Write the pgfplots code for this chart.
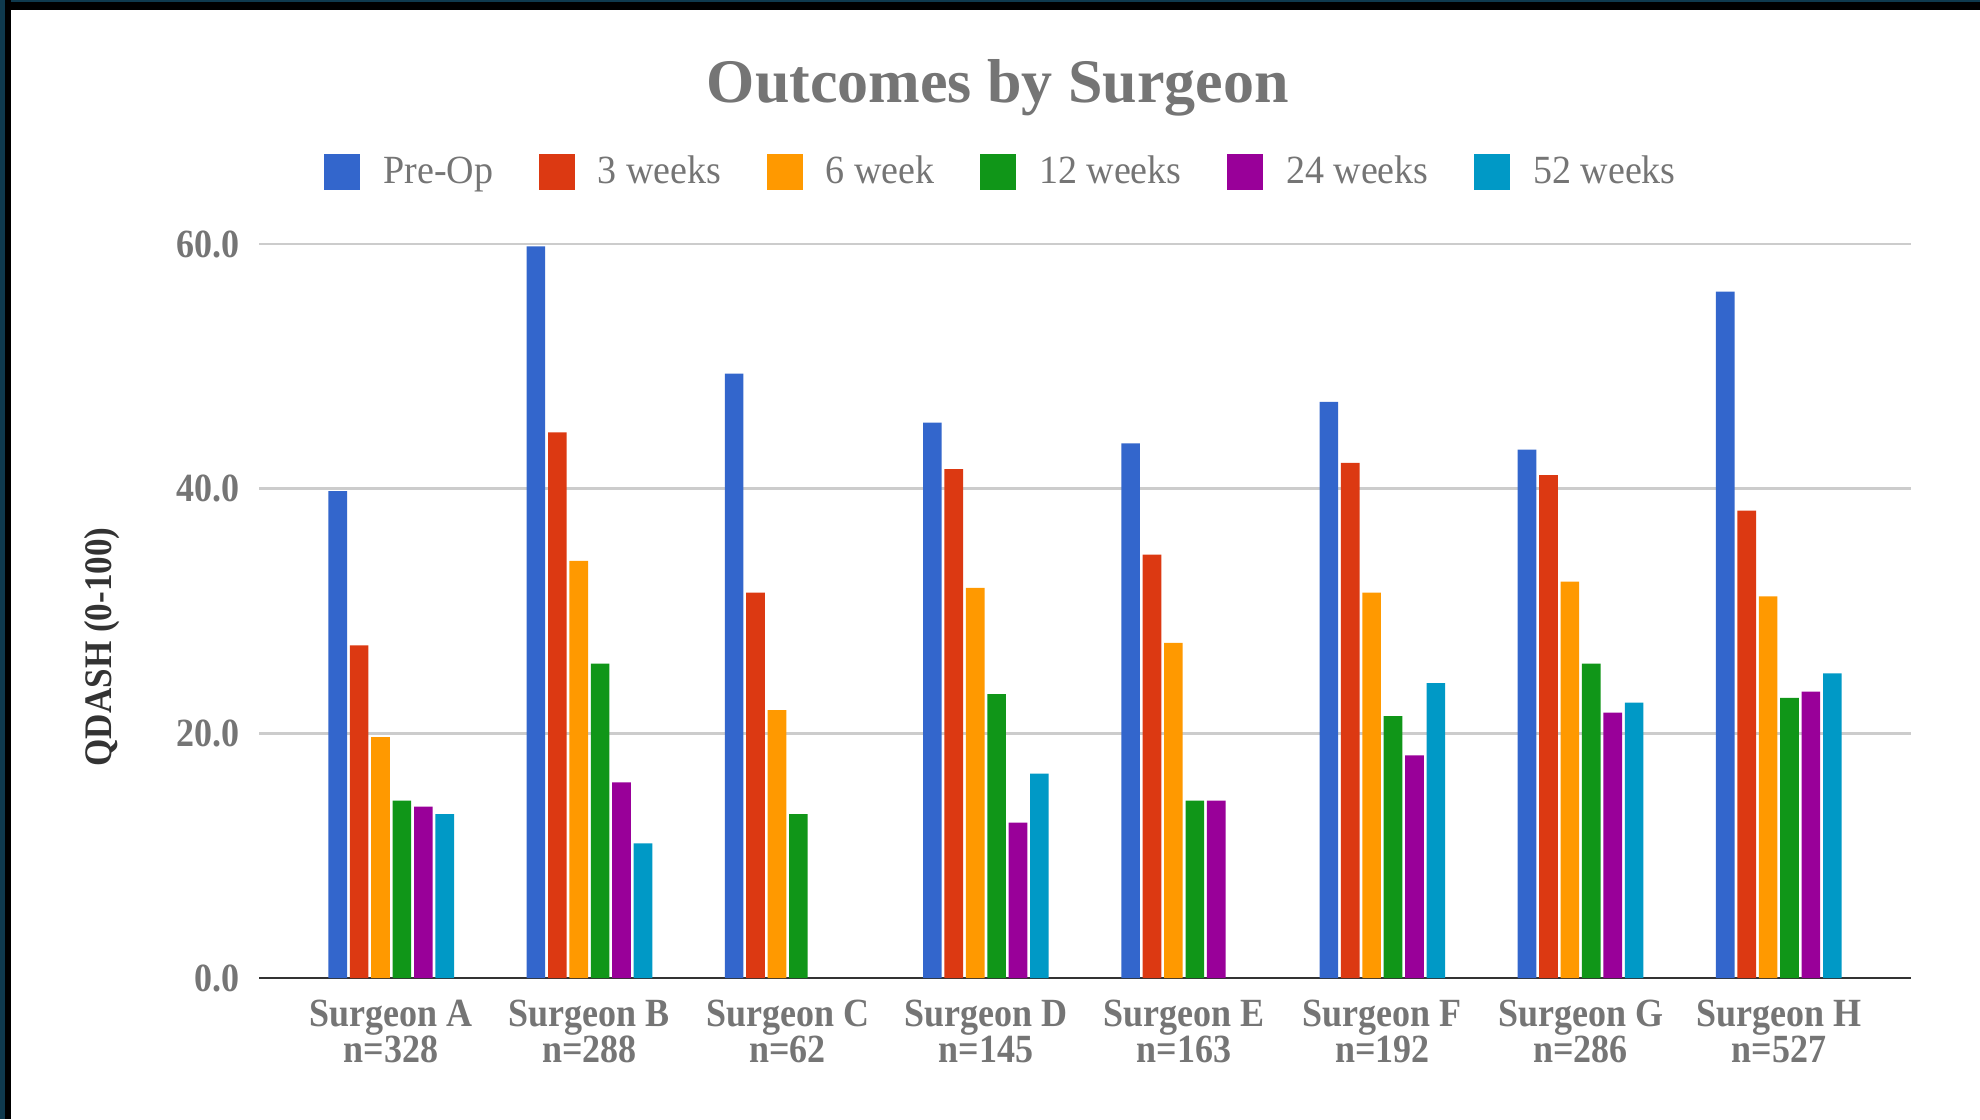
\documentclass[border=0pt]{standalone}
\usepackage{fontspec}
\setmainfont{Liberation Serif}
\newfontfamily\cbfont{Liberation Serif}[FakeStretch=0.9]
\newfontfamily\lgfont{Liberation Serif}[FakeStretch=0.95]
\usepackage{pgfplots}
\pgfplotsset{compat=1.18}
\definecolor{cA}{HTML}{3366CC}
\definecolor{cB}{HTML}{DC3912}
\definecolor{cC}{HTML}{FF9900}
\definecolor{cD}{HTML}{109618}
\definecolor{cE}{HTML}{990099}
\definecolor{cF}{HTML}{0099C6}
\definecolor{txtgray}{HTML}{757575}
\definecolor{gridgray}{HTML}{CCCCCC}
\definecolor{axisdark}{HTML}{333333}
\definecolor{bordteal}{HTML}{0F3A4E}
\begin{document}
\begin{tikzpicture}
\useasboundingbox (0,0) rectangle (990pt,559.5pt);
\fill[white] (0,0) rectangle (990pt,559.5pt);
\begin{axis}[
  at={(129.5pt,70.5pt)}, anchor=south west,
  scale only axis, width=826pt, height=367pt,
  xmin=-0.667, xmax=7.667, ymin=0, ymax=60,
  ybar, bar width=0.094,
  axis x line*=bottom, axis y line*=left,
  x axis line style={-, draw=axisdark, line width=1.4pt},
  y axis line style={draw=none},
  major tick length=0pt,
  ytick={0,20,40,60},
  ymajorgrids, grid style={draw=gridgray, line width=1.2pt},
  xtick={0,1,2,3,4,5,6,7},
  xticklabels={{Surgeon A\\n=328},{Surgeon B\\n=288},{Surgeon C\\n=62},{Surgeon D\\n=145},{Surgeon E\\n=163},{Surgeon F\\n=192},{Surgeon G\\n=286},{Surgeon H\\n=527}},
  xticklabel style={align=center, inner sep=0pt, anchor=north, yshift=-10.8pt,
    font=\cbfont\bfseries\fontsize{20}{18}\selectfont, text=txtgray},
  yticklabel style={inner sep=0pt, anchor=east, xshift=-9.5pt,
    font=\cbfont\bfseries\fontsize{20}{20}\selectfont, text=txtgray,
    /pgf/number format/.cd, fixed, fixed zerofill, precision=1, assume math mode=true},
  ylabel={QDASH (0-100)},
  ylabel style={at={(axis description cs:-0.095,0.451)}, anchor=center,
    font=\cbfont\bfseries\fontsize{19.5}{19.5}\selectfont, text=axisdark},
  title={Outcomes by Surgeon},
  title style={at={(axis description cs:0.4473,1.177)}, anchor=base,
    font=\bfseries\fontsize{31}{31}\selectfont, text=txtgray},
  legend columns=6,
  legend cell align=left,
  legend image code/.code={\fill (0pt,-9.35pt) rectangle (18pt,8.65pt);},
  legend style={draw=none, fill=none, inner sep=0pt, outer sep=0pt,
    at={(axis description cs:0.0396,1.0988)}, anchor=west,
    font=\lgfont\fontsize{20}{20}\selectfont, text=txtgray,
    /tikz/every odd column/.append style={column sep=9.5pt},
    /tikz/every even column/.append style={column sep=20.8pt}},
]
\addplot[fill=cA, draw=none, bar shift=-0.27] coordinates {(0,39.8) (1,59.8) (2,49.4) (3,45.4) (4,43.7) (5,47.1) (6,43.2) (7,56.1)};
\addplot[fill=cB, draw=none, bar shift=-0.162] coordinates {(0,27.2) (1,44.6) (2,31.5) (3,41.6) (4,34.6) (5,42.1) (6,41.1) (7,38.2)};
\addplot[fill=cC, draw=none, bar shift=-0.054] coordinates {(0,19.7) (1,34.1) (2,21.9) (3,31.9) (4,27.4) (5,31.5) (6,32.4) (7,31.2)};
\addplot[fill=cD, draw=none, bar shift=0.054] coordinates {(0,14.5) (1,25.7) (2,13.4) (3,23.2) (4,14.5) (5,21.4) (6,25.7) (7,22.9)};
\addplot[fill=cE, draw=none, bar shift=0.162] coordinates {(0,14.0) (1,16.0) (3,12.7) (4,14.5) (5,18.2) (6,21.7) (7,23.4)};
\addplot[fill=cF, draw=none, bar shift=0.27] coordinates {(0,13.4) (1,11.0) (3,16.7) (5,24.1) (6,22.5) (7,24.9)};
\legend{Pre-Op,3 weeks,6 week,12 weeks,24 weeks,52 weeks}
\end{axis}
\fill[black] (0,554.5pt) rectangle (990pt,559.5pt);
\fill[bordteal] (0,558.5pt) rectangle (990pt,559.5pt);
\fill[black] (0,0) rectangle (5.5pt,559.5pt);
\fill[bordteal] (0,0) rectangle (2.5pt,559.5pt);
\end{tikzpicture}
\end{document}
